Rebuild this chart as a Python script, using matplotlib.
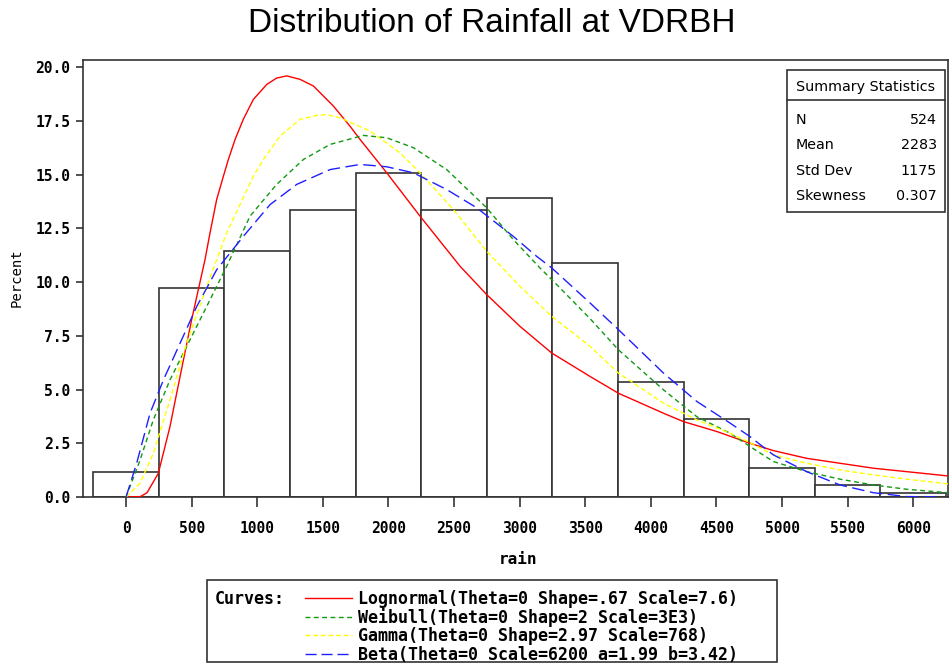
import matplotlib
matplotlib.use("Agg")
import matplotlib.pyplot as plt
from matplotlib.patches import Rectangle
from matplotlib.ticker import FormatStrFormatter, MultipleLocator

# ---------------- data ----------------
bin_mid = [0, 500, 1000, 1500, 2000, 2500, 3000, 3500, 4000, 4500, 5000, 5500, 6000]
bin_pct = [1.15, 9.73, 11.45, 13.36, 15.08, 13.36, 13.93, 10.88, 5.34, 3.63, 1.34, 0.57, 0.19]

logn_x = [0, 110, 160, 246, 335, 386, 500, 602, 640, 691, 742, 780, 831, 894, 970, 1072, 1148,
          1225, 1326, 1428, 1580, 1707, 1784, 1987, 2241, 2546, 2749, 3003, 3245, 3537, 3753,
          4096, 4248, 4502, 4756, 4934, 5188, 5442, 5696, 5950, 6265]
logn_y = [0, 0.02, 0.2, 1.10, 3.28, 4.83, 8.25, 11.05, 12.29, 13.85, 14.93, 15.71, 16.64, 17.58,
          18.5, 19.2, 19.5, 19.6, 19.44, 19.13, 18.2, 17.26, 16.64, 15.09, 13.07, 10.74, 9.42,
          7.94, 6.70, 5.61, 4.83, 3.90, 3.51, 3.05, 2.50, 2.16, 1.80, 1.57, 1.34, 1.18, 0.98]

weib_x = [0, 107, 208, 335, 462, 615, 767, 945, 1148, 1352, 1555, 1809, 1987, 2190, 2444, 2749,
          2952, 3155, 3245, 3537, 3753, 4096, 4350, 4604, 4756, 4934, 5188, 5442, 5696, 5950, 6265]
weib_y = [0, 1.72, 3.59, 5.45, 7.01, 8.87, 10.74, 13.07, 14.55, 15.71, 16.41, 16.83, 16.72, 16.26,
          15.24, 13.46, 11.98, 10.66, 10.12, 8.30, 6.85, 4.99, 3.74, 2.97, 2.35, 1.65, 1.18, 0.83,
          0.56, 0.36, 0.20]

gamma_x = [0, 107, 208, 335, 462, 615, 767, 970, 1047, 1174, 1326, 1453, 1530, 1631, 1860, 2088,
           2241, 2495, 2749, 3003, 3245, 3537, 3753, 4096, 4350, 4604, 4756, 4934, 5188, 5442,
           5696, 5950, 6265]
gamma_y = [0, 0.64, 2.04, 4.52, 7.16, 9.80, 12.29, 14.93, 15.71, 16.8, 17.58, 17.76, 17.8, 17.65,
           17.03, 16.02, 15.09, 13.38, 11.44, 9.80, 8.41, 7.01, 5.77, 4.37, 3.59, 2.97, 2.53, 1.96,
           1.57, 1.26, 1.03, 0.83, 0.61]

beta_x = [0, 81, 183, 285, 412, 539, 691, 894, 1098, 1301, 1555, 1784, 1987, 2190, 2444, 2673,
          2952, 3130, 3245, 3537, 3753, 4096, 4350, 4604, 4756, 4934, 5188, 5442, 5696, 5950, 6200]
beta_y = [0, 1.57, 3.90, 5.45, 7.16, 8.87, 10.58, 12.13, 13.61, 14.55, 15.24, 15.48, 15.37, 15.09,
          14.31, 13.46, 12.13, 11.20, 10.66, 9.03, 7.79, 5.77, 4.45, 3.44, 2.81, 1.96, 1.18, 0.56,
          0.20, 0.02, 0]

stat_names = ["N", "Mean", "Std Dev", "Skewness"]
stat_values = ["524", "2283", "1175", "0.307"]

legend_labels = ["Lognormal(Theta=0 Shape=.67 Scale=7.6)",
                 "Weibull(Theta=0 Shape=2 Scale=3E3)",
                 "Gamma(Theta=0 Shape=2.97 Scale=768)",
                 "Beta(Theta=0 Scale=6200 a=1.99 b=3.42)"]

title = "Distribution of Rainfall at VDRBH"
xlabel = "rain"
ylabel = "Percent"

MONO = "DejaVu Sans Mono"

# ---------------- figure ----------------
W, H = 949, 663
fig = plt.figure(figsize=(W / 100, H / 100), dpi=100)
fig.patch.set_facecolor("white")

ax = fig.add_axes([83 / W, 1 - 497 / H, (948 - 83) / W, (497 - 60) / H])
ax.set_xlim(-328, 6265)
ax.set_ylim(0, 20.34)

edge = "#333333"
ax.bar(bin_mid, bin_pct, width=500, facecolor="white", edgecolor=edge, linewidth=1.2, zorder=1)

styles = [
    (logn_x, logn_y, "#FF0000", None),
    (weib_x, weib_y, "#119911", (3.5, 2.5)),
    (gamma_x, gamma_y, "#FFFF00", (3.5, 2.0)),
    (beta_x, beta_y, "#1F1FFF", (9, 4)),
]
for xs, ys, col, dash in styles:
    ln, = ax.plot(xs, ys, color=col, linewidth=1.0, zorder=3, solid_joinstyle="round")
    if dash is not None:
        ln.set_dashes(dash)

ax.set_xticks(bin_mid)
ax.yaxis.set_major_locator(MultipleLocator(2.5))
ax.yaxis.set_major_formatter(FormatStrFormatter("%.1f"))
for sp in ax.spines.values():
    sp.set_color(edge)
    sp.set_linewidth(1.2)
ax.tick_params(axis="both", direction="out", color=edge, width=1.2)
ax.tick_params(axis="x", length=7, pad=10)
ax.tick_params(axis="y", length=5, pad=4)
for lab in ax.get_xticklabels() + ax.get_yticklabels():
    lab.set_fontfamily(MONO)
    lab.set_fontweight("bold")
    lab.set_fontsize(10.5)

# overlay in pixel coordinates for texts, boxes and legend
ov = fig.add_axes([0, 0, 1, 1], facecolor="none")
ov.set_xlim(0, W)
ov.set_ylim(H, 0)
ov.axis("off")

ov.text(492, 23, title, ha="center", va="center", fontsize=24,
        family="Liberation Sans", color="black")
ov.text(518, 559, xlabel, ha="center", va="center", fontsize=11.5,
        family=MONO, weight="bold")
ov.text(17, 278, ylabel, ha="center", va="center", rotation=90, fontsize=10,
        family=MONO)

# summary statistics box
ov.add_patch(Rectangle((787, 70), 158, 142, facecolor="white", edgecolor=edge,
                       linewidth=1.2, zorder=5))
ov.plot([787, 945], [100, 100], color=edge, linewidth=1.2, zorder=6)
ov.text(866, 87, "Summary Statistics", ha="center", va="center", fontsize=10.3,
        family="DejaVu Sans", zorder=7)
for i, (nm, val) in enumerate(zip(stat_names, stat_values)):
    yy = 120 + i * 25.3
    ov.text(796, yy, nm, ha="left", va="center", fontsize=10.3, family="DejaVu Sans", zorder=7)
    ov.text(937, yy, val, ha="right", va="center", fontsize=10.3, family="DejaVu Sans", zorder=7)

# curves legend box
ov.add_patch(Rectangle((207, 580), 570, 82, facecolor="white", edgecolor=edge,
                       linewidth=1.2, zorder=5))
ov.text(215, 599, "Curves:", ha="left", va="center", fontsize=12,
        family=MONO, weight="bold", zorder=7)
for i, (lab, (_, _, col, dash)) in enumerate(zip(legend_labels, styles)):
    yy = 599 + i * 18.7
    l, = ov.plot([305, 352], [yy - 1, yy - 1], color=col, linewidth=1.0, zorder=7)
    if dash is not None:
        l.set_dashes(dash if dash[0] < 5 else (8, 3.5))
    ov.text(358, yy, lab, ha="left", va="center", fontsize=12,
            family=MONO, weight="bold", zorder=7)

fig.savefig("out.png", dpi=100, facecolor="white")
